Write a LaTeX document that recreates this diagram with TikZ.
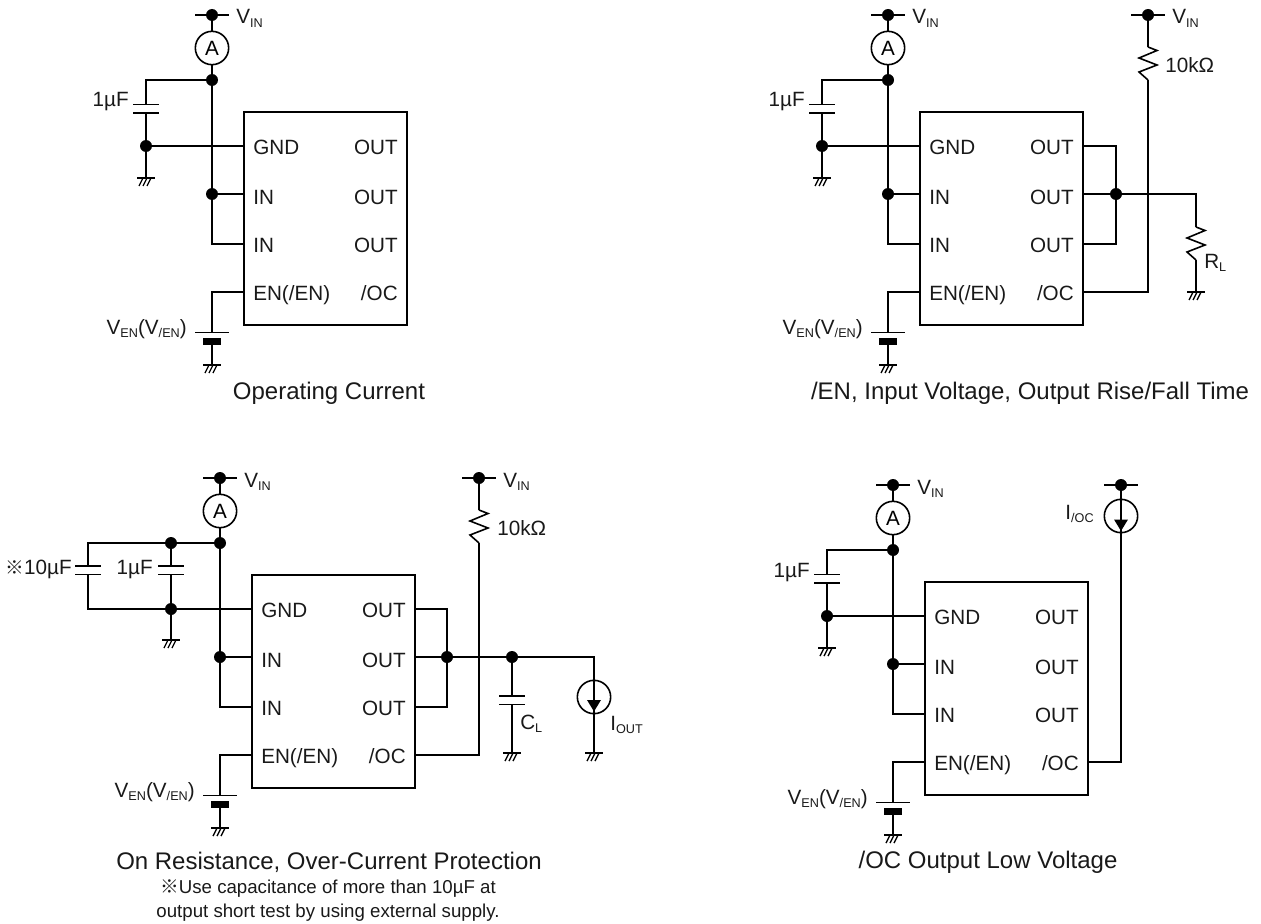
\documentclass[tikz,border=0pt]{standalone}
\usepackage{fontspec}
\setmainfont{Liberation Sans}
\newfontfamily\symfont{Noto Sans CJK JP}
\newcommand{\sbs}[1]{\raisebox{-0.3ex}{\fontsize{9.5}{11}\selectfont #1}}
\tikzset{
  x=0.75pt,y=-0.75pt,
  wire/.style={line width=1.2pt,black,line join=miter},
  chip/.style={draw,line width=1.5pt,minimum width=122.25pt,minimum height=159.75pt,inner sep=0pt},
  jdot/.style={circle,fill=black,draw=none,minimum size=9pt,inner sep=0pt},
  meter/.style={circle,draw,line width=1.2pt,minimum size=25pt,inner sep=0pt,fill=white},
  lbl/.style={font=\fontsize{15.5}{18}\selectfont,inner sep=0pt,text=black!90},
  captxt/.style={font=\fontsize{18}{21}\selectfont,inner sep=0pt,text=black!90,anchor=base},
  notetxt/.style={font=\fontsize{14}{17}\selectfont,inner sep=0pt,text=black!90,anchor=base},
  gndsym/.pic={
    \draw[line width=1.2pt] (-9,0) -- (9,0);
    \draw[line width=1pt] (-3,0) -- (-7,8) (1,0) -- (-3,8) (5,0) -- (1,8);
  },
  zig/.pic={
    \draw[wire,line join=miter] (0,0) -- (9,3.5) -- (-9,11) -- (9,18) -- (-9,25) -- (0,33);
  },
  platepair/.pic={
    \draw[line width=1.3pt] (-13,0) -- (13,0) (-13,8.5) -- (13,8.5);
  },
  srcarrow/.pic={
    \fill (-7,-5.5) -- (7,-5.5) -- (0,6) -- cycle;
  }
}
% common left side: prefix, dx, dy
\newcommand{\icleft}[3]{%
\begin{scope}[shift={(#2,#3)}]
  \node[chip] (#1ic) at (325.5,218.5) {};
  \node[lbl,anchor=base west] (#1tg) at (253,154.5) {GND};
  \node[lbl,anchor=base west] (#1ti) at (253,204) {IN};
  \node[lbl,anchor=base west] (#1tj) at (253,252) {IN};
  \node[lbl,anchor=base west] (#1te) at (253,300.5) {EN(/EN)};
  \node[lbl,anchor=base east] (#1ta) at (398,154.5) {OUT};
  \node[lbl,anchor=base east] (#1tb) at (398,204) {OUT};
  \node[lbl,anchor=base east] (#1tc) at (398,252) {OUT};
  \node[lbl,anchor=base east] (#1td) at (398,300.5) {/OC};
  \coordinate (#1pg) at (244,146);
  \coordinate (#1pi) at (244,194);
  \coordinate (#1pj) at (244,244);
  \coordinate (#1pe) at (244,292);
  \coordinate (#1pa) at (407,146);
  \coordinate (#1pb) at (407,194);
  \coordinate (#1pc) at (407,244);
  \coordinate (#1pd) at (407,292);
  % V_IN terminal and ammeter
  \node[jdot] (#1vin) at (212,15) {};
  \coordinate (#1vl) at (195,15);
  \coordinate (#1vr) at (229,15);
  \draw[wire] (#1vl) -- (#1vr);
  \node[lbl,anchor=base west] (#1vt) at (236,24) {V\sbs{IN}};
  \node[meter] (#1am) at (212,48) {\fontsize{15.5}{18}\selectfont A};
  \node[jdot] (#1top) at (212,80) {};
  \node[jdot] (#1ind) at (212,194) {};
  \draw[wire] (#1vin) -- (#1am);
  \draw[wire] (#1am) -- (#1top);
  \coordinate (#1low) at (212,244);
  \draw[wire] (#1top) -- (#1ind);
  \draw[wire] (#1ind) -- (#1low) -- (#1pj);
  \draw[wire] (#1ind) -- (#1pi);
  % EN source
  \coordinate (#1eb) at (212,292);
  \coordinate (#1ep) at (212,332.5);
  \coordinate (#1eg) at (212,365);
  \draw[wire] (#1pe) -- (#1eb) -- (#1ep);
  \draw[line width=1.3pt] (195,332.5) -- (229,332.5);
  \fill (203,338) rectangle (221,345);
  \draw[wire] (#1ep) ++(0,10) -- (#1eg);
  \pic at (#1eg) {gndsym};
  \node[lbl,anchor=base east] (#1et) at (187,334) {V\sbs{EN}(V\sbs{/EN})};
\end{scope}}
% 1 uF capacitor branch
\newcommand{\capbranch}[3]{%
\begin{scope}[shift={(#2,#3)}]
  \coordinate (#1cc) at (146,80);
  \node[jdot] (#1cd) at (146,146) {};
  \coordinate (#1cg) at (146,178);
  \draw[wire] (#1top) -- (#1cc) -- (146,104);
  \pic at (146,104.5) {platepair};
  \draw[wire] (146,113) -- (#1cd);
  \draw[wire] (#1cd) -- (#1pg);
  \draw[wire] (#1cd) -- (#1cg);
  \pic at (#1cg) {gndsym};
  \node[lbl,anchor=base east] (#1ct) at (129,107) {1µF};
\end{scope}}
\begin{document}
\begin{tikzpicture}
\useasboundingbox (0,0) rectangle (1261,924);
% ---- circuit 1
\icleft{a}{0}{0}
\capbranch{a}{0}{0}
\node[captxt] (acap) at (329,399) {Operating Current};
% ---- circuit 2
\icleft{b}{676}{0}
\capbranch{b}{676}{0}
\node[captxt] (bcap) at (1030,399) {/EN, Input Voltage, Output Rise/Fall Time};
\node[jdot] (bv2) at (1148,15) {};
\coordinate (bv2l) at (1131,15);
\coordinate (bv2r) at (1165,15);
\draw[wire] (bv2l) -- (bv2r);
\node[lbl,anchor=base west] (bv2t) at (1172,24) {V\sbs{IN}};
\pic at (1148,47) {zig};
\node[lbl,anchor=base west] (brt) at (1165,72.5) {10kΩ};
\coordinate (brt1) at (1148,47);
\coordinate (brb1) at (1148,80);
\coordinate (bc1) at (1148,292);
\draw[wire] (bv2) -- (brt1);
\draw[wire] (brb1) -- (bc1) -- (bpd);
\coordinate (bo1) at (1116,146);
\coordinate (bo3) at (1116,244);
\node[jdot] (bod) at (1116,194) {};
\draw[wire] (bpa) -- (bo1) -- (bo3) -- (bpc);
\draw[wire] (bpb) -- (bod);
\coordinate (brr) at (1196,194);
\coordinate (brl1) at (1196,227);
\coordinate (brl2) at (1196,260);
\coordinate (brlg) at (1196,292);
\draw[wire] (bod) -- (brr) -- (brl1);
\pic at (brl1) {zig};
\draw[wire] (brl2) -- (brlg);
\pic at (brlg) {gndsym};
\node[lbl,anchor=base west] (brlt) at (1204,268.5) {R\sbs{L}};
% ---- circuit 3
\icleft{c}{8}{463}
\node[captxt] (ccap) at (329,869) {On Resistance, Over-Current Protection};
\node[notetxt] (cn1) at (328,893) {{\symfont ※}Use capacitance of more than 10µF at};
\node[notetxt] (cn2) at (328,917) {output short test by using external supply.};
\node[jdot] (cd1) at (171,543) {};
\node[jdot] (cd2) at (171,609) {};
\coordinate (cl1) at (88,543);
\coordinate (cl2) at (88,609);
\coordinate (cg) at (171,640);
\draw[wire] (ctop) -- (cd1) -- (cl1) -- (88,566);
\draw[wire] (88,575) -- (cl2) -- (cd2) -- (cpg);
\draw[wire] (cd1) -- (171,566);
\draw[wire] (171,575) -- (cd2);
\draw[wire] (cd2) -- (cg);
\pic at (88,566) {platepair};
\pic at (171,566) {platepair};
\pic at (cg) {gndsym};
\node[lbl,anchor=base east] (ct1) at (72,574) {{\symfont\fontsize{14}{16}\selectfont ※}10µF};
\node[lbl,anchor=base east] (ct2) at (153,574) {1µF};
\node[jdot] (cv2) at (479,478) {};
\coordinate (cv2l) at (462,478);
\coordinate (cv2r) at (496,478);
\draw[wire] (cv2l) -- (cv2r);
\node[lbl,anchor=base west] (cv2t) at (503,487) {V\sbs{IN}};
\coordinate (crt) at (479,510);
\coordinate (crb) at (479,543);
\coordinate (cc1) at (479,755);
\draw[wire] (cv2) -- (crt);
\pic at (crt) {zig};
\draw[wire] (crb) -- (cc1) -- (cpd);
\node[lbl,anchor=base west] (crtt) at (497,535.5) {10kΩ};
\coordinate (co1) at (447,609);
\coordinate (co3) at (447,707);
\node[jdot] (cod) at (447,657) {};
\node[jdot] (cod2) at (512,657) {};
\draw[wire] (cpa) -- (co1) -- (co3) -- (cpc);
\draw[wire] (cpb) -- (cod);
\draw[wire] (cod) -- (cod2);
\coordinate (ccl1) at (512,696);
\coordinate (ccl2) at (512,705);
\coordinate (ccg) at (512,753);
\draw[wire] (cod2) -- (ccl1);
\pic at (ccl1) {platepair};
\draw[wire] (ccl2) -- (ccg);
\pic at (ccg) {gndsym};
\node[lbl,anchor=base west] (cclt) at (520,729) {C\sbs{L}};
\coordinate (cio) at (594,657);
\node[meter,fill=none] (cis) at (594,697) {};
\coordinate (cigd) at (594,753);
\draw[wire] (cod2) -- (cio) -- (cigd);
\pic at (594,705.5) {srcarrow};
\pic at (cigd) {gndsym};
\node[lbl,anchor=base west] (cit) at (610,730) {I\sbs{OUT}};
% ---- circuit 4
\icleft{d}{681}{470}
\capbranch{d}{681}{470}
\node[captxt] (dcap) at (988,868) {/OC Output Low Voltage};
\node[jdot] (dv2) at (1121,485) {};
\coordinate (dv2l) at (1104,485);
\coordinate (dv2r) at (1138,485);
\draw[wire] (dv2l) -- (dv2r);
\node[meter,fill=none] (dis) at (1121,516) {};
\coordinate (dc1) at (1121,762);
\draw[wire] (dv2) -- (dc1) -- (dpd);
\pic at (1121,525) {srcarrow};
\node[lbl,anchor=base east] (dit) at (1094,519) {I\sbs{/OC}};
\end{tikzpicture}
\end{document}
